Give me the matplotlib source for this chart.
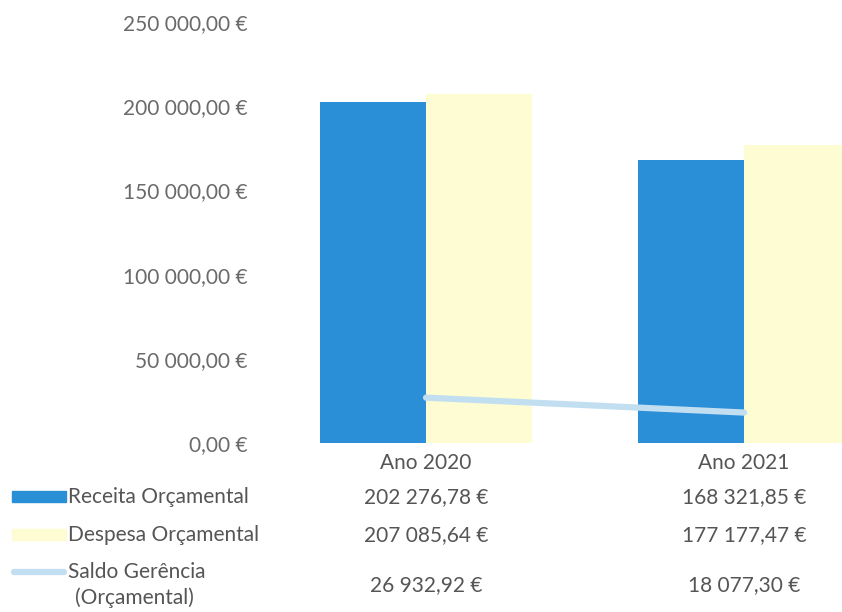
import numpy as np
import matplotlib.pyplot as plt
from matplotlib.ticker import FuncFormatter
from matplotlib.patches import Rectangle
from matplotlib.lines import Line2D
from matplotlib.transforms import blended_transform_factory

anos = ["Ano 2020", "Ano 2021"]
receita = [202276.78, 168321.85]
despesa = [207085.64, 177177.47]
saldo = [26932.92, 18077.30]
series_names = ["Receita Orçamental", "Despesa Orçamental", "Saldo Gerência\n(Orçamental)"]

blue = "#2A8FD7"
yellow = "#FEFCD2"
light = "#C2DFF2"
grey = "#6A6A6A"
txt = "#555555"
fs = 15

plt.rcParams["font.family"] = ["Lato", "DejaVu Sans"]


def euro(v, pos=None):
    s = f"{v:,.2f}".replace(",", " ").replace(".", ",")
    return s + " €"


fig = plt.figure(figsize=(8.42, 6.12), dpi=100)
ax = fig.add_axes([267 / 842, 1 - 443 / 612, 1 - 267 / 842, (443 - 22) / 612])

x = np.arange(len(anos))
w = 0.333
ax.bar(x - w / 2, receita, w, color=blue, zorder=2)
ax.bar(x + w / 2, despesa, w, color=yellow, zorder=2)
ax.plot(x, saldo, color=light, lw=4.5, solid_capstyle="round", zorder=3)

ax.set_xlim(-0.5, 1.308)
ax.set_ylim(0, 250000)
ax.set_yticks(np.arange(0, 250001, 50000))
ax.yaxis.set_major_formatter(FuncFormatter(euro))
ax.tick_params(axis="y", length=0, pad=14, labelsize=fs, labelcolor=grey)
ax.set_xticks([])
for sp in ax.spines.values():
    sp.set_visible(False)

# data table below the chart
tr = blended_transform_factory(ax.transData, fig.transFigure)
row_y = [1 - 497 / 612, 1 - 535 / 612, 1 - 585 / 612]
for i, a in enumerate(anos):
    ax.text(x[i], 1 - 463 / 612, a, transform=tr, ha="center", va="center",
            fontsize=fs, color=txt, clip_on=False)
    for vals, yy in zip([receita, despesa, saldo], row_y):
        ax.text(x[i], yy, euro(vals[i]), transform=tr, ha="center", va="center",
                fontsize=fs, color=txt, clip_on=False)

# legend keys
fig.patches.append(Rectangle((12 / 842, row_y[0] - 5 / 612), 54 / 842, 11 / 612,
                             transform=fig.transFigure, color=blue))
fig.patches.append(Rectangle((12 / 842, row_y[1] - 5 / 612), 54 / 842, 11 / 612,
                             transform=fig.transFigure, color=yellow))
fig.lines.append(Line2D([14 / 842, 64 / 842], [1 - 572 / 612] * 2, transform=fig.transFigure,
                        color=light, lw=4.5, solid_capstyle="round"))

fig.text(68 / 842, row_y[0], series_names[0], ha="left", va="center", fontsize=fs, color=txt)
fig.text(68 / 842, row_y[1], series_names[1], ha="left", va="center", fontsize=fs, color=txt)
fig.text(68 / 842, 1 - 572 / 612, series_names[2].split("\n")[0], ha="left", va="center",
         fontsize=fs, color=txt)
fig.text(134 / 842, 1 - 598 / 612, series_names[2].split("\n")[1], ha="center", va="center",
         fontsize=fs, color=txt)

fig.savefig("out.png", dpi=100)
